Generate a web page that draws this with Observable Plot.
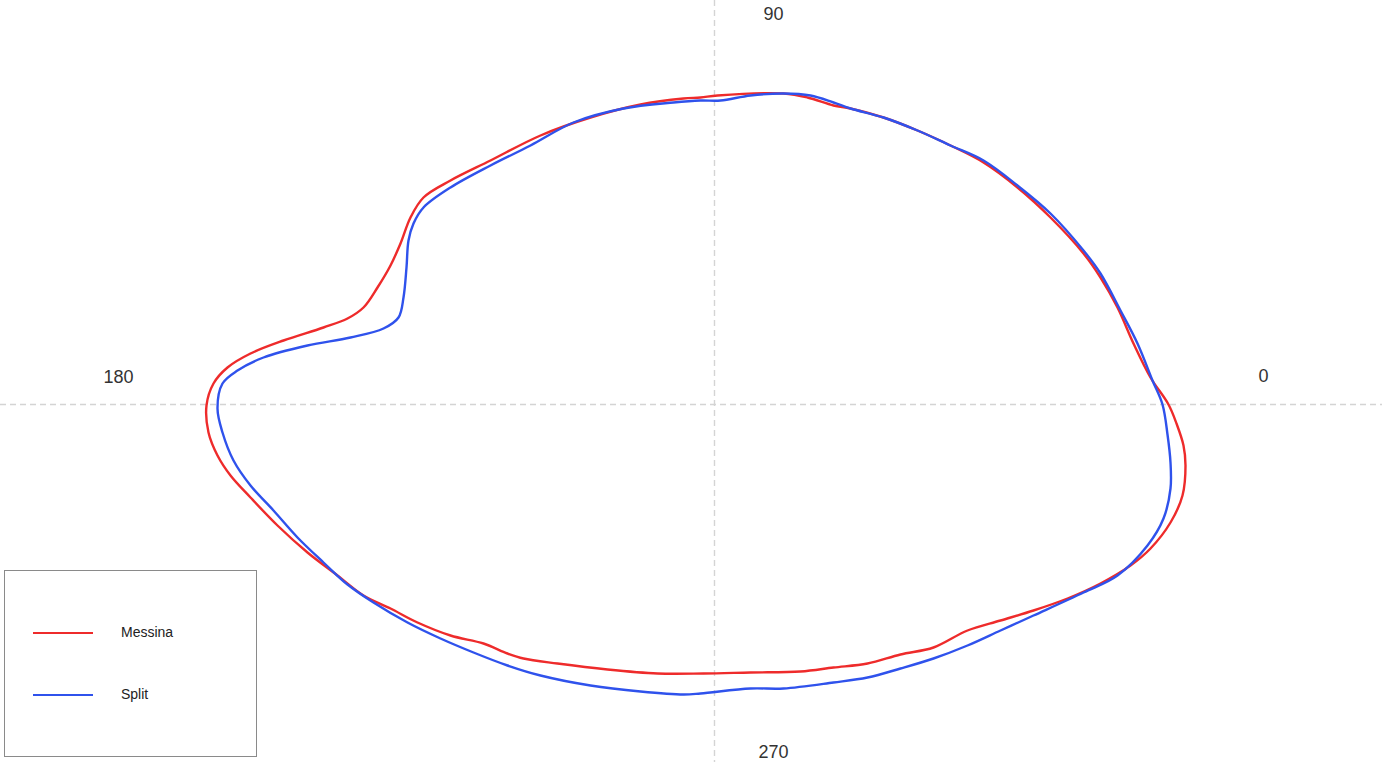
<!DOCTYPE html>
<html>
<head>
<meta charset="utf-8">
<script src="https://cdn.jsdelivr.net/npm/d3@7"></script>
<script src="https://cdn.jsdelivr.net/npm/@observablehq/plot@0.6"></script>
<style>
  html, body { margin: 0; padding: 0; background: #fff; }
  #wrap { position: relative; width: 1382px; height: 762px; overflow: hidden; font-family: "Liberation Sans", Arial, sans-serif; }
  #legend { position: absolute; left: 4px; top: 570px; width: 253px; height: 187px; border: 1px solid #8a8a8a; box-sizing: border-box; background: #fff; }
  .lg-row { position: absolute; left: 0; height: 20px; }
  .lg-line { position: absolute; left: 28px; width: 60px; height: 0; border-top: 2.5px solid; }
  .lg-text { position: absolute; left: 116px; font-size: 14px; color: #222; white-space: nowrap; }
</style>
</head>
<body>
<div id="wrap">
  <div id="chart"></div>
  <div id="legend"></div>
</div>
<script>
// Series names and colours
const seriesNames = ["Messina", "Split"];
const seriesColors = ["#ee2b2b", "#2f52ec"];

// Angle tick labels
const angleLabels = ["0", "90", "180", "270"];

// Messina curve (x, y), centred on the origin
const messinaX = [-14, 3, 69, 93, 119, 136, 169, 203, 236, 269, 303, 336, 369, 386, 403, 419, 436, 454, 462, 469, 471, 468, 456, 436, 416, 386, 353, 319, 286, 253, 219, 186, 153, 119, 86, 36, -11, -57, -107, -157, -191, -207, -231, -264, -297, -324, -351, -377, -407, -437, -464, -484, -497, -506, -508, -501, -487, -464, -431, -391, -367, -351, -337, -324, -314, -304, -291, -264, -224, -174, -124, -74, -31];
const messinaY = [307, 309, 311, 307, 299, 296, 287, 274, 259, 242, 217, 187, 151, 127, 97, 61, 27, 0, -19, -41, -61, -91, -118, -144, -161, -179, -194, -206, -216, -226, -243, -250, -259, -263, -267, -268, -269, -269, -265, -259, -254, -249, -239, -231, -218, -204, -191, -171, -148, -121, -93, -71, -51, -28, -1, 21, 37, 51, 64, 77, 86, 97, 117, 139, 161, 187, 207, 224, 244, 269, 287, 300, 306];

// Split curve (x, y), centred on the origin
const splitX = [-14, 6, 36, 69, 96, 119, 136, 169, 203, 236, 269, 303, 336, 369, 386, 406, 423, 438, 448, 453, 456, 456, 449, 433, 403, 369, 319, 286, 253, 219, 186, 153, 119, 69, 36, -14, -31, -74, -124, -174, -207, -241, -274, -307, -341, -367, -391, -417, -441, -464, -481, -492, -497, -492, -477, -451, -407, -364, -331, -316, -311, -308, -306, -301, -291, -264, -224, -184, -141, -91, -41];
const splitY = [304, 304, 309, 311, 309, 302, 296, 287, 274, 259, 244, 219, 191, 154, 131, 94, 61, 24, 0, -30, -58, -84, -114, -141, -171, -188, -211, -226, -241, -254, -264, -273, -278, -284, -284, -289, -290, -287, -281, -271, -261, -248, -234, -218, -198, -180, -158, -133, -106, -81, -56, -28, -4, 21, 34, 47, 59, 67, 76, 87, 107, 137, 164, 181, 197, 217, 239, 259, 282, 296, 302];

const rows = [];
messinaX.forEach((x, i) => rows.push({series: seriesNames[0], x, y: messinaY[i]}));
splitX.forEach((x, i) => rows.push({series: seriesNames[1], x, y: splitY[i]}));

const labelRows = angleLabels.map((t, i) => ({t, i}));
const labelPos = [[549, 28], [59, 390], [-596, 27], [59, -348]];

const plot = Plot.plot({
  width: 1382,
  height: 762,
  margin: 0,
  x: {domain: [-714, 668], axis: null},
  y: {domain: [-358, 404], axis: null},
  color: {domain: seriesNames, range: seriesColors},
  style: {background: "#fff"},
  marks: [
    Plot.ruleY([0], {stroke: "#d4d4d4", strokeWidth: 1.4, strokeDasharray: "6,4"}),
    Plot.ruleX([0], {stroke: "#d4d4d4", strokeWidth: 1.4, strokeDasharray: "6,4"}),
    Plot.line(rows, {x: "x", y: "y", z: "series", stroke: "series", strokeWidth: 2.4, curve: "catmull-rom-closed"}),
    Plot.text(labelRows, {
      x: d => labelPos[d.i][0], y: d => labelPos[d.i][1], text: "t",
      fontSize: 18, fill: "#333", fontFamily: "Liberation Sans, Arial, sans-serif"
    })
  ]
});
document.getElementById("chart").appendChild(plot);

// Legend
const legend = document.getElementById("legend");
seriesNames.forEach((name, i) => {
  const row = document.createElement("div");
  row.className = "lg-row";
  row.style.top = (i === 0 ? 52 : 114) + "px";
  row.style.width = "100%";
  const ln = document.createElement("div");
  ln.className = "lg-line";
  ln.style.borderTopColor = seriesColors[i];
  ln.style.top = "9px";
  const tx = document.createElement("div");
  tx.className = "lg-text";
  tx.style.top = "1px";
  tx.textContent = name;
  row.appendChild(ln);
  row.appendChild(tx);
  legend.appendChild(row);
});
</script>
</body>
</html>
